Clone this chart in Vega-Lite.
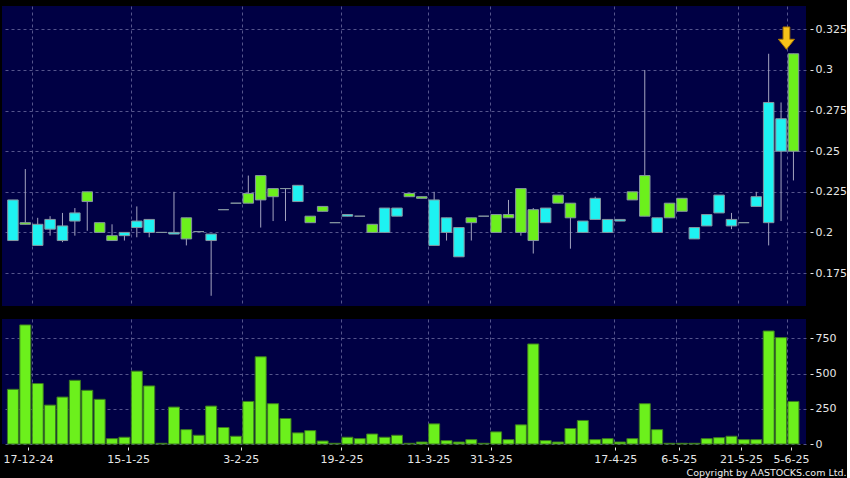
{
  "$schema": "https://vega.github.io/schema/vega-lite/v6.json",
  "background": "#000000",
  "padding": {"left": 2, "top": 6, "right": 0, "bottom": 0},
  "spacing": 13,
  "title": {"text": "Copyright by AASTOCKS.com Ltd.", "orient": "bottom", "anchor": "end", "frame": "bounds", "color": "#eeeeee", "font": "DejaVu Sans", "fontSize": 9.5, "fontWeight": "normal", "offset": 4},
  "datasets": {
    "ohlc": [
      {"i":0,"o":0.22,"h":0.22,"l":0.195,"c":0.195,"v":388},
      {"i":1,"o":0.205,"h":0.239,"l":0.205,"c":0.206,"v":845},
      {"i":2,"o":0.205,"h":0.209,"l":0.192,"c":0.192,"v":429},
      {"i":3,"o":0.208,"h":0.21,"l":0.198,"c":0.202,"v":276},
      {"i":4,"o":0.204,"h":0.212,"l":0.194,"c":0.195,"v":333},
      {"i":5,"o":0.212,"h":0.215,"l":0.198,"c":0.207,"v":452},
      {"i":6,"o":0.219,"h":0.225,"l":0.201,"c":0.225,"v":381},
      {"i":7,"o":0.2,"h":0.206,"l":0.2,"c":0.206,"v":317},
      {"i":8,"o":0.195,"h":0.205,"l":0.195,"c":0.198,"v":38},
      {"i":9,"o":0.2,"h":0.2,"l":0.195,"c":0.198,"v":48},
      {"i":10,"o":0.207,"h":0.216,"l":0.197,"c":0.203,"v":517},
      {"i":11,"o":0.208,"h":0.208,"l":0.197,"c":0.2,"v":412},
      {"i":12,"o":0.2,"h":0.2,"l":0.2,"c":0.2,"v":5},
      {"i":13,"o":0.2,"h":0.225,"l":0.199,"c":0.199,"v":262},
      {"i":14,"o":0.196,"h":0.209,"l":0.192,"c":0.209,"v":102},
      {"i":15,"o":0.2005,"h":0.2005,"l":0.2005,"c":0.2005,"v":62},
      {"i":16,"o":0.199,"h":0.199,"l":0.161,"c":0.195,"v":269},
      {"i":17,"o":0.214,"h":0.214,"l":0.214,"c":0.214,"v":117},
      {"i":18,"o":0.218,"h":0.218,"l":0.218,"c":0.218,"v":55},
      {"i":19,"o":0.218,"h":0.235,"l":0.218,"c":0.224,"v":302},
      {"i":20,"o":0.22,"h":0.235,"l":0.203,"c":0.235,"v":619},
      {"i":21,"o":0.222,"h":0.227,"l":0.207,"c":0.227,"v":286},
      {"i":22,"o":0.227,"h":0.227,"l":0.207,"c":0.227,"v":181},
      {"i":23,"o":0.229,"h":0.229,"l":0.219,"c":0.219,"v":79},
      {"i":24,"o":0.206,"h":0.21,"l":0.206,"c":0.21,"v":95},
      {"i":25,"o":0.213,"h":0.216,"l":0.213,"c":0.216,"v":21},
      {"i":26,"o":0.206,"h":0.206,"l":0.206,"c":0.206,"v":5},
      {"i":27,"o":0.211,"h":0.211,"l":0.21,"c":0.21,"v":48},
      {"i":28,"o":0.21,"h":0.21,"l":0.21,"c":0.21,"v":38},
      {"i":29,"o":0.2,"h":0.205,"l":0.2,"c":0.205,"v":71},
      {"i":30,"o":0.215,"h":0.215,"l":0.2,"c":0.2,"v":48},
      {"i":31,"o":0.215,"h":0.215,"l":0.21,"c":0.21,"v":62},
      {"i":32,"o":0.222,"h":0.224,"l":0.222,"c":0.224,"v":5},
      {"i":33,"o":0.221,"h":0.222,"l":0.221,"c":0.222,"v":14},
      {"i":34,"o":0.22,"h":0.225,"l":0.192,"c":0.192,"v":143},
      {"i":35,"o":0.209,"h":0.209,"l":0.195,"c":0.2,"v":24},
      {"i":36,"o":0.203,"h":0.203,"l":0.185,"c":0.185,"v":14},
      {"i":37,"o":0.206,"h":0.209,"l":0.195,"c":0.209,"v":31},
      {"i":38,"o":0.21,"h":0.21,"l":0.21,"c":0.21,"v":5},
      {"i":39,"o":0.2,"h":0.211,"l":0.2,"c":0.211,"v":86},
      {"i":40,"o":0.209,"h":0.22,"l":0.209,"c":0.211,"v":31},
      {"i":41,"o":0.2,"h":0.227,"l":0.198,"c":0.227,"v":136},
      {"i":42,"o":0.195,"h":0.215,"l":0.187,"c":0.214,"v":710},
      {"i":43,"o":0.215,"h":0.215,"l":0.206,"c":0.206,"v":24},
      {"i":44,"o":0.218,"h":0.223,"l":0.218,"c":0.223,"v":14},
      {"i":45,"o":0.209,"h":0.218,"l":0.19,"c":0.218,"v":110},
      {"i":46,"o":0.207,"h":0.207,"l":0.2,"c":0.2,"v":167},
      {"i":47,"o":0.221,"h":0.222,"l":0.208,"c":0.208,"v":31},
      {"i":48,"o":0.208,"h":0.208,"l":0.2,"c":0.2,"v":38},
      {"i":49,"o":0.208,"h":0.208,"l":0.207,"c":0.207,"v":14},
      {"i":50,"o":0.22,"h":0.225,"l":0.22,"c":0.225,"v":38},
      {"i":51,"o":0.21,"h":0.3,"l":0.21,"c":0.235,"v":286},
      {"i":52,"o":0.209,"h":0.209,"l":0.2,"c":0.2,"v":102},
      {"i":53,"o":0.209,"h":0.218,"l":0.209,"c":0.218,"v":5},
      {"i":54,"o":0.213,"h":0.221,"l":0.213,"c":0.221,"v":5},
      {"i":55,"o":0.203,"h":0.203,"l":0.196,"c":0.196,"v":5},
      {"i":56,"o":0.211,"h":0.211,"l":0.204,"c":0.204,"v":38},
      {"i":57,"o":0.223,"h":0.223,"l":0.212,"c":0.212,"v":45},
      {"i":58,"o":0.208,"h":0.212,"l":0.202,"c":0.204,"v":55},
      {"i":59,"o":0.206,"h":0.206,"l":0.206,"c":0.206,"v":31},
      {"i":60,"o":0.222,"h":0.225,"l":0.216,"c":0.216,"v":31},
      {"i":61,"o":0.28,"h":0.31,"l":0.192,"c":0.206,"v":802},
      {"i":62,"o":0.27,"h":0.28,"l":0.207,"c":0.25,"v":755},
      {"i":63,"o":0.25,"h":0.31,"l":0.232,"c":0.31,"v":302}
    ],
    "arrow": [{"i": 63, "p": 0.3196}]
  },
  "vconcat": [
    {
      "width": 804,
      "height": 300,
      "layer": [
        {
          "data": {"name": "ohlc"},
          "mark": {"type": "rule", "color": "#a4a4c0", "strokeWidth": 1},
          "encoding": {
            "x": {"field": "i", "type": "quantitative",
              "scale": {"domain": [-0.478, 63.61], "nice": false, "zero": false},
              "axis": {"values": [1.5, 9.5, 18.5, 26.5, 33.5, 38.5, 48.5, 53.5, 58.5, 62.5], "grid": true, "labels": false, "ticks": false, "domain": false, "title": null}},
            "y": {"field": "l", "type": "quantitative",
              "scale": {"domain": [0.1547, 0.3394], "nice": false, "zero": false},
              "axis": {"orient": "right", "values": [0.175, 0.2, 0.225, 0.25, 0.275, 0.3, 0.325], "format": ".3~f", "grid": true, "offset": 4, "tickSize": 3, "labelPadding": 2, "domain": false, "title": null}},
            "y2": {"field": "h"}
          }
        },
        {
          "data": {"name": "ohlc"},
          "mark": {"type": "bar", "width": 10.5, "stroke": "#8696a0", "strokeWidth": 1},
          "encoding": {
            "x": {"field": "i", "type": "quantitative"},
            "y": {"field": "o", "type": "quantitative"},
            "y2": {"field": "c"},
            "fill": {
              "condition": [
                {"test": "datum.c > datum.o", "value": "#6cf01c"},
                {"test": "datum.c < datum.o", "value": "#1ef2f2"}
              ],
              "value": "#9a9aaa"
            }
          }
        },
        {
          "data": {"name": "arrow"},
          "mark": {"type": "point", "shape": "M-0.3,-1L0.3,-1L0.3,0.1L0.72,0.1L0,1L-0.72,0.1L-0.3,0.1Z", "size": 500, "filled": true, "fill": "#f7c21a", "stroke": "#b07c00", "strokeWidth": 1, "opacity": 1, "xOffset": -7},
          "encoding": {
            "x": {"field": "i", "type": "quantitative"},
            "y": {"field": "p", "type": "quantitative"}
          }
        }
      ]
    },
    {
      "width": 804,
      "height": 125,
      "data": {"name": "ohlc"},
      "layer": [
        {
          "mark": {"type": "bar", "width": 11, "fill": "#6cf01c", "stroke": "#3c7a20", "strokeWidth": 1},
          "encoding": {
            "x": {"field": "i", "type": "quantitative",
              "scale": {"domain": [-0.478, 63.61], "nice": false, "zero": false},
              "axis": {"orient": "bottom", "values": [1.5, 9.5, 18.5, 26.5, 33.5, 38.5, 48.5, 53.5, 58.5, 62.5], "grid": true, "labels": false, "ticks": false, "domain": false, "title": null}},
            "y": {"field": "v", "type": "quantitative",
              "scale": {"domain": [0, 887], "nice": false},
              "axis": {"orient": "right", "values": [0, 250, 500, 750], "format": "d", "grid": true, "offset": 4, "tickSize": 3, "labelPadding": 2, "domain": false, "title": null}}
          }
        },
        {
          "mark": {"type": "bar", "width": 11, "opacity": 0},
          "encoding": {
            "x": {"field": "i", "type": "quantitative",
              "axis": {"orient": "bottom", "values": [1.22, 9.3, 18.39, 26.52, 33.53, 38.58, 48.62, 53.75, 58.77, 62.8], "grid": false, "domain": false, "offset": 3, "tickSize": 3, "labelPadding": 3, "labelOverlap": false, "labelBound": false, "labelFlush": false, "title": null,
                "labelExpr": "datum.value < 5 ? '17-12-24' : datum.value < 12 ? '15-1-25' : datum.value < 22 ? '3-2-25' : datum.value < 30 ? '19-2-25' : datum.value < 36 ? '11-3-25' : datum.value < 43 ? '31-3-25' : datum.value < 51 ? '17-4-25' : datum.value < 56 ? '6-5-25' : datum.value < 60 ? '21-5-25' : '5-6-25'"}},
            "y": {"field": "v", "type": "quantitative"}
          }
        }
      ],
      "resolve": {"axis": {"x": "independent"}}
    }
  ],
  "config": {
    "view": {"fill": "#000044", "stroke": null},
    "axis": {"labelFont": "DejaVu Sans", "labelFontSize": 11, "labelColor": "#e6e6e6", "tickColor": "#e6e6e6", "gridColor": "#55558c", "gridDash": [3, 3], "gridOpacity": 1, "gridWidth": 1}
  }
}
